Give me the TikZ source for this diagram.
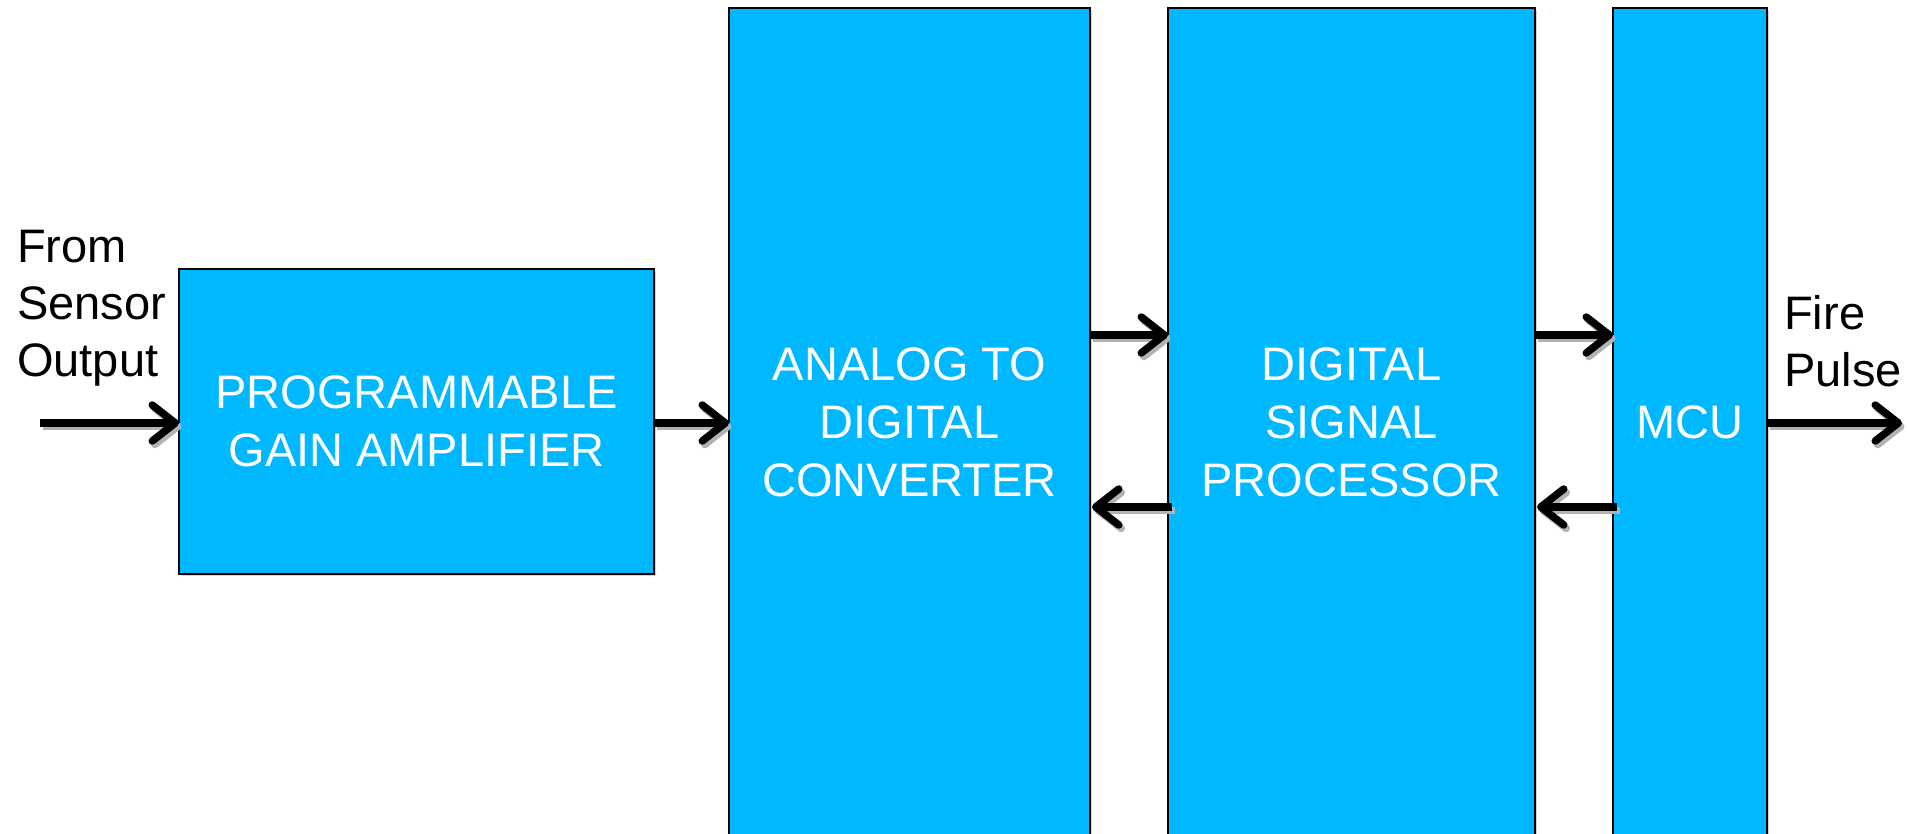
\documentclass[tikz,border=0pt]{standalone}
\usepackage{fontspec}
\setmainfont{Liberation Sans}
\usetikzlibrary{arrows.meta,shadows}
\tikzset {>={Straight Barb[length=23pt,width=36pt,round]}}
\definecolor{blockblue}{RGB}{0,184,255}

\begin{document}
\begin{tikzpicture}[x=1pt,y=-1pt,
  block/.style={draw=black,line width=1.8pt,fill=blockblue,text=white,
    inner sep=0pt,outer sep=0pt,align=center,
    font=\fontsize{47}{58}\selectfont,
    drop shadow={shadow xshift=2pt,shadow yshift=-2pt,opacity=.35}},
  sig/.style={->,line width=7.5pt,
    preaction={draw=black!30,->,line width=7.5pt,
      transform canvas={shift={(2.5pt,-3.5pt)}}}},
  label/.style={align=left,inner sep=0pt,font=\fontsize{47}{57}\selectfont}]
\useasboundingbox (0,0) rectangle (1907,834);
\clip (0,0) rectangle (1907,834);

% blocks
\node[block,minimum width=475pt,minimum height=305pt] (pga) at (416.5,421.5)
  {PROGRAMMABLE\\GAIN AMPLIFIER};
\node[block,minimum width=361pt,minimum height=828pt] (adc) at (909.5,422)
  {ANALOG TO\\DIGITAL\\CONVERTER};
\node[block,minimum width=367pt,minimum height=828pt] (dsp) at (1351.5,422)
  {DIGITAL\\SIGNAL\\PROCESSOR};
\node[block,minimum width=154pt,minimum height=828pt] (mcu) at (1690,422)
  {MCU};

% input and output
\coordinate (in) at (40,423);
\coordinate (out) at (1902,423);
\node[label,anchor=west] (sensor) at (17,308) {From\\Sensor\\Output};
\node[label,anchor=west] (fire) at (1784,341) {Fire\\Pulse};

% signal flow
\draw[sig] (in) -- (pga.west |- in);
\draw[sig] (pga.east |- in) -- (adc.west |- in);
\draw[sig] ([yshift=87pt]adc.east) -- ([yshift=87pt]dsp.west);
\draw[sig] ([xshift=4pt,yshift=-85pt]dsp.west) -- ([xshift=2pt,yshift=-85pt]adc.east);
\draw[sig] ([yshift=87pt]dsp.east) -- ([yshift=87pt]mcu.west);
\draw[sig] ([xshift=4pt,yshift=-85pt]mcu.west) -- ([xshift=2pt,yshift=-85pt]dsp.east);
\draw[sig] (mcu.east |- out) -- (out);

\end{tikzpicture}
\end{document}
